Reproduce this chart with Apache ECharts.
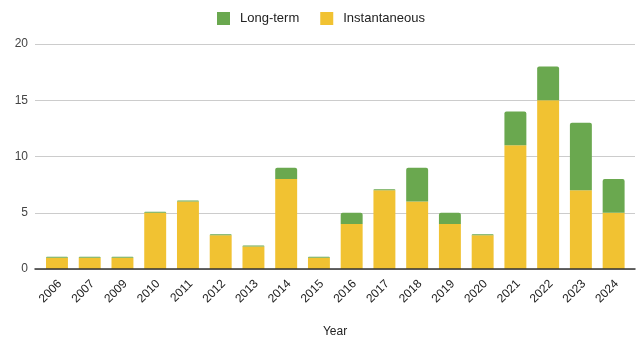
<!DOCTYPE html>
<html>
<head>
<meta charset="utf-8">
<script src="https://cdn.jsdelivr.net/npm/echarts@6/dist/echarts.min.js"></script>
<style>
  html, body { margin: 0; padding: 0; background: #fff; }
  #chart { width: 639px; height: 341px; }
</style>
</head>
<body>
<div id="chart"></div>
<script>
// Publications per year, split by type
const years = ['2006','2007','2009','2010','2011','2012','2013','2014','2015','2016','2017','2018','2019','2020','2021','2022','2023','2024'];
const instantaneous = [1, 1, 1, 5, 6, 3, 2, 8, 1, 4, 7, 6, 4, 3, 11, 15, 7, 5];
const longTerm = [0, 0, 0, 0, 0, 0, 0, 1, 0, 1, 0, 3, 1, 0, 3, 3, 6, 3];
const yTicks = [0, 5, 10, 15, 20];

const font = 'Liberation Sans, Arial, sans-serif';
const yMin = yTicks[0];
const yMax = yTicks[yTicks.length - 1];
const chart = echarts.init(document.getElementById('chart'));

chart.setOption({
  animation: false,
  textStyle: { fontFamily: font },
  legend: {
    top: 7,
    left: 212,
    itemWidth: 13,
    itemHeight: 13,
    itemGap: 21,
    icon: 'rect',
    textStyle: { fontSize: 13, color: '#222', fontFamily: font, padding: [0, 0, 0, 5] },
    data: ['Long-term', 'Instantaneous']
  },
  grid: [
    // plot area for the bars
    { left: 40.6, right: 9, top: 44, bottom: 72, outerBoundsMode: 'none', containLabel: false },
    // wider frame carrying gridlines, y labels and the baseline
    { left: 35, right: 4, top: 44, bottom: 72, outerBoundsMode: 'none', containLabel: false },
    // category labels, nudged right under each bar
    { left: 43.6, right: 6, top: 44, bottom: 72, outerBoundsMode: 'none', containLabel: false }
  ],
  xAxis: [
    {
      gridIndex: 0,
      type: 'category',
      data: years,
      axisLine: { show: false },
      axisTick: { show: false },
      axisLabel: { show: false }
    },
    {
      gridIndex: 1,
      type: 'value',
      min: 0,
      max: 1,
      z: 10,
      axisLine: { show: true, onZero: false, lineStyle: { color: '#333', width: 1.5 } },
      axisTick: { show: false },
      axisLabel: { show: false },
      splitLine: { show: false },
      name: 'Year',
      nameLocation: 'middle',
      nameGap: 57,
      nameTextStyle: { fontSize: 12, color: '#222', fontFamily: font }
    },
    {
      gridIndex: 2,
      type: 'category',
      data: years,
      axisLine: { show: false },
      axisTick: { show: false },
      axisLabel: { rotate: 45, interval: 0, fontSize: 12, color: '#222', margin: 13, fontFamily: font }
    }
  ],
  yAxis: [
    {
      gridIndex: 0,
      type: 'value',
      min: yMin,
      max: yMax,
      interval: 5,
      axisLine: { show: false },
      axisTick: { show: false },
      axisLabel: { show: false },
      splitLine: { show: false }
    },
    {
      gridIndex: 1,
      type: 'value',
      min: yMin,
      max: yMax,
      interval: 5,
      axisLine: { show: false },
      axisTick: { show: false },
      axisLabel: { fontSize: 12, color: '#444', margin: 7, fontFamily: font },
      splitLine: { lineStyle: { color: '#ccc', width: 1 } }
    },
    {
      gridIndex: 2,
      type: 'value',
      min: yMin,
      max: yMax,
      show: false
    }
  ],
  series: [
    {
      name: 'Instantaneous',
      type: 'bar',
      xAxisIndex: 0,
      yAxisIndex: 0,
      stack: 'total',
      barWidth: '67%',
      data: instantaneous,
      itemStyle: { color: '#f1c232' }
    },
    {
      name: 'Long-term',
      type: 'bar',
      xAxisIndex: 0,
      yAxisIndex: 0,
      stack: 'total',
      barWidth: '67%',
      barMinHeight: 1,
      data: longTerm,
      itemStyle: { color: '#6aa84f', borderRadius: [2, 2, 0, 0] }
    }
  ]
});
</script>
</body>
</html>
